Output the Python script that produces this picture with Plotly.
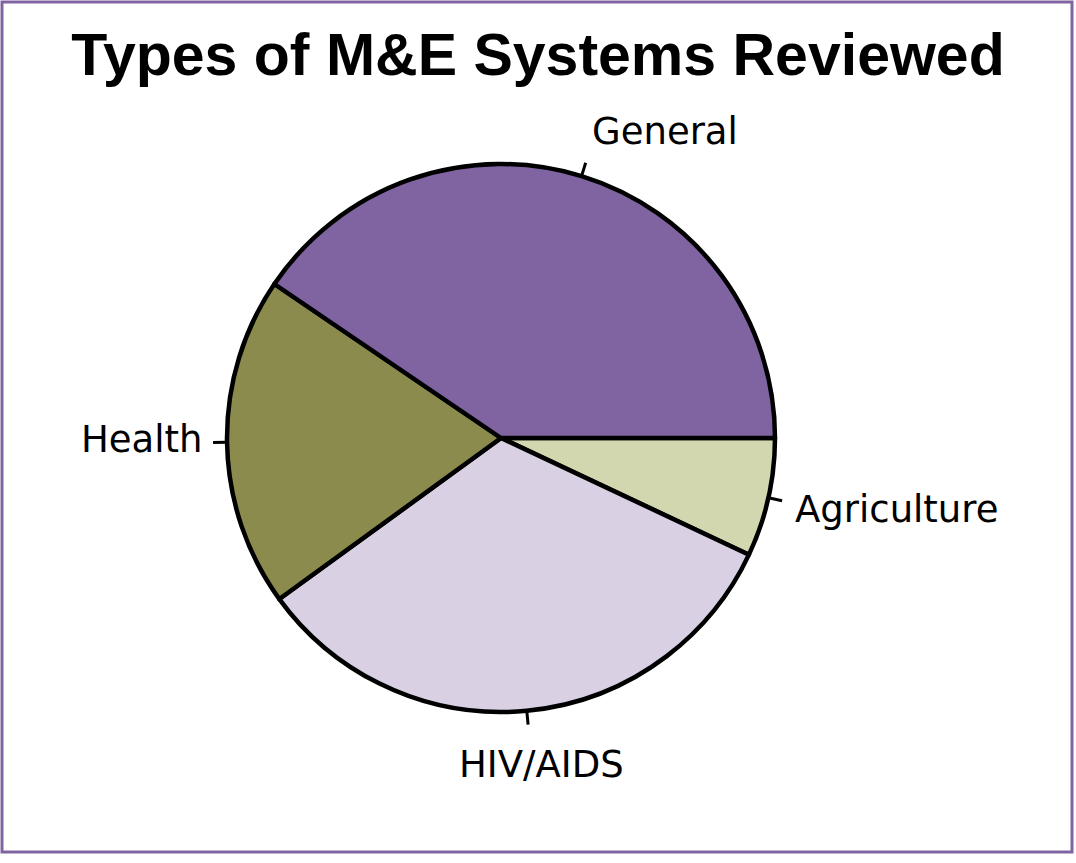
import math
import plotly.graph_objects as go

labels = ["General", "Health", "HIV/AIDS", "Agriculture"]
values = [40.5, 19.5, 33.0, 7.0]
colors = ["#8064A2", "#8A8B4C", "#D9D0E3", "#D3D7B0"]

W, H = 1076, 863
CX, CY, R = 501, 438, 274

# label placement style relative to each tick end: (xanchor, yanchor, xshift, yshift)
label_style = [("left", "bottom", 4, 8),
               ("right", "middle", -8, 3),
               ("center", "top", 13, -16),
               ("left", "middle", 11, -9)]

fig = go.Figure(go.Pie(
    labels=labels[::-1],
    values=values[::-1],
    sort=False,
    direction="clockwise",
    rotation=90,
    marker=dict(colors=colors[::-1], line=dict(color="black", width=4.5)),
    textinfo="none",
    showlegend=False,
    hoverinfo="label+percent",
    domain=dict(x=[(CX - R) / W, (CX + R) / W], y=[1 - (CY + R) / H, 1 - (CY - R) / H]),
))

shapes = []
annotations = []
total = sum(values)
acc = 0.0
for lab, v, st in zip(labels, values, label_style):
    mid = (acc + v / 2) / total * 2 * math.pi
    acc += v
    x0 = CX + R * math.cos(mid)
    y0 = CY - R * math.sin(mid)
    x1 = CX + (R + 14) * math.cos(mid)
    y1 = CY - (R + 14) * math.sin(mid)
    shapes.append(dict(type="line", xref="paper", yref="paper",
                       x0=x0 / W, y0=1 - y0 / H, x1=x1 / W, y1=1 - y1 / H,
                       line=dict(color="black", width=3)))
    annotations.append(dict(text=lab, xref="paper", yref="paper",
                            x=x1 / W, y=1 - y1 / H, showarrow=False,
                            xanchor=st[0], yanchor=st[1], xshift=st[2], yshift=st[3],
                            font=dict(family="DejaVu Sans", size=37, color="black")))

shapes.append(dict(type="rect", xref="paper", yref="paper",
                   x0=2 / W, x1=1072 / W, y0=1 - 852 / H, y1=1 - 2 / H,
                   line=dict(color="#8064A2", width=3)))

fig.update_layout(
    width=W, height=H,
    margin=dict(l=0, r=0, t=0, b=0),
    paper_bgcolor="white",
    plot_bgcolor="white",
    title=dict(text="<b>Types of M&amp;E Systems Reviewed</b>",
               x=0.5, xanchor="center", y=1 - 54 / H, yanchor="middle",
               font=dict(family="Liberation Sans, Arial", size=59, color="black")),
    shapes=shapes,
    annotations=annotations,
)

fig.write_html("out.html", config={"displayModeBar": False},
               post_script="document.body.style.margin='0';")
